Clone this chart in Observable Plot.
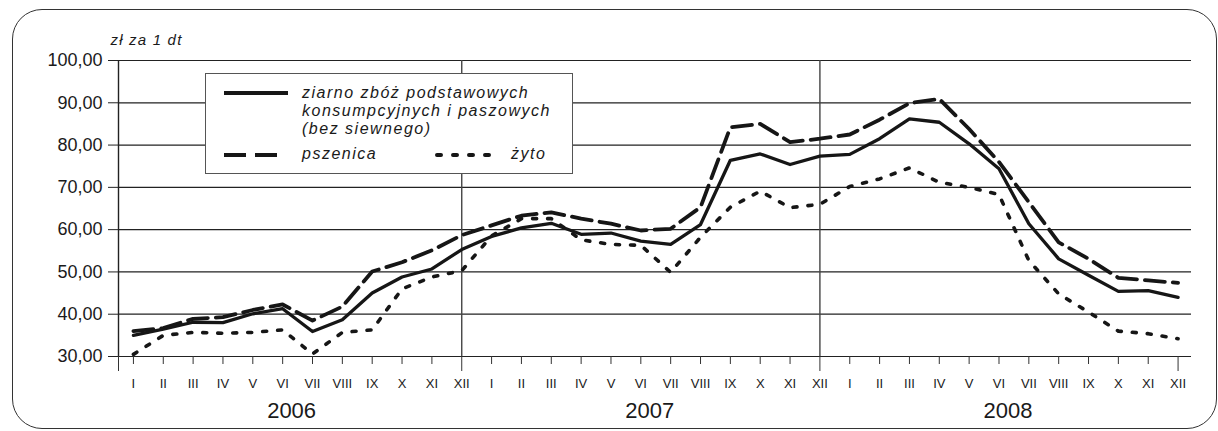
<!DOCTYPE html>
<html>
<head>
<meta charset="utf-8">
<script src="https://cdn.jsdelivr.net/npm/d3@7"></script>
<script src="https://cdn.jsdelivr.net/npm/@observablehq/plot@0.6"></script>
<style>
  html, body { margin: 0; padding: 0; background: #fff; }
  body { width: 1218px; height: 431px; position: relative; overflow: hidden; font-family: "Liberation Sans", Arial, sans-serif; color: #1a1a1a; }
  #chart { position: absolute; left: 0; top: 0; }
  #border { position: absolute; left: 12px; top: 9px; width: 1203px; height: 418px; border: 1.4px solid #333; border-radius: 30px; pointer-events: none; }
  #legend { position: absolute; left: 205px; top: 73px; width: 366px; height: 99px; border: 1.3px solid #555; background: #fff; }
  #legend .t { position: absolute; font-style: italic; font-size: 16px; letter-spacing: 1.5px; line-height: 18px; white-space: nowrap; color: #1a1a1a; }
  #legend svg { position: absolute; left: 0; top: 0; }
</style>
</head>
<body>
<div id="chart"></div>
<div id="border"></div>
<div id="legend"></div>
<script>
// ---- data ----
const months = ["I","II","III","IV","V","VI","VII","VIII","IX","X","XI","XII"];
const years = [2006, 2007, 2008];
const seriesNames = ["ziarno zbóż podstawowych konsumpcyjnych i paszowych (bez siewnego)", "pszenica", "żyto"];
const ziarno = [
  35.0, 36.5, 38.1, 38.0, 40.1, 41.3, 35.9, 38.7, 45.0, 48.8, 50.7, 55.3,
  58.4, 60.4, 61.5, 58.9, 59.2, 57.3, 56.5, 61.2, 76.4, 77.9, 75.4, 77.4,
  77.8, 81.5, 86.2, 85.4, 80.3, 74.4, 61.4, 53.1, 49.2, 45.4, 45.6, 44.0
];
const pszenica = [
  36.0, 36.7, 38.9, 39.3, 41.0, 42.3, 38.5, 41.8, 50.1, 52.3, 55.1, 58.7,
  61.0, 63.3, 64.1, 62.6, 61.4, 59.8, 60.2, 65.3, 84.2, 85.0, 80.7, 81.5,
  82.5, 86.0, 89.9, 90.9, 83.8, 76.0, 66.5, 57.0, 53.1, 48.6, 48.0, 47.4
];
const zyto = [
  30.5, 35.0, 35.7, 35.5, 35.7, 36.3, 30.6, 35.7, 36.3, 46.0, 48.8, 50.3,
  58.5, 62.6, 62.6, 57.6, 56.5, 56.3, 49.9, 58.2, 65.3, 69.1, 65.2, 66.0,
  70.2, 72.0, 74.6, 71.2, 70.0, 68.3, 52.7, 44.8, 40.5, 36.0, 35.4, 34.2
];
const yTicks = [30, 40, 50, 60, 70, 80, 90, 100];
const yDomain = [30, 100];
const unitLabel = "zł za 1 dt";

// ---- derived tables ----
const n = years.length * months.length;
const idx = d3.range(n);
const xDomain = [-0.5, n - 0.55];
const rows = (vals) => vals.map((v, i) => ({i, v}));
const decemberIdx = idx.filter(i => i % 12 === 11);
const otherIdx = idx.filter(i => i % 12 !== 11);
const yearCenters = years.map((y, k) => d3.mean(d3.range(k * 12, k * 12 + 12)) - 0.2);
const monthLabel = i => months[i % 12];
const fmt = d => d.toFixed(2).replace(".", ",");
const ink = "#161616";

const plot = Plot.plot({
  width: 1218,
  height: 431,
  marginLeft: 118,
  marginRight: 27,
  marginTop: 60,
  marginBottom: 75,
  style: {fontFamily: "'Liberation Sans', Arial, sans-serif", color: "#1a1a1a", background: "transparent", overflow: "visible"},
  x: {type: "linear", domain: xDomain, axis: null},
  y: {domain: yDomain, axis: null},
  marks: [
    Plot.gridY(yTicks, {stroke: "#222", strokeOpacity: 1, strokeWidth: 1.2}),
    Plot.ruleX([xDomain[0]], {y1: yDomain[0], y2: yDomain[1], stroke: "#222", strokeWidth: 1.4}),
    Plot.ruleX(decemberIdx.slice(0, -1), {y1: yDomain[0], y2: yDomain[1], stroke: "#444", strokeWidth: 1.4}),
    Plot.axisY({ticks: yTicks, tickSize: 10, tickPadding: 6, tickFormat: fmt, fontSize: 18, label: null, stroke: "#222"}),
    Plot.axisX({ticks: otherIdx, tickSize: 8, tickPadding: 14, tickFormat: monthLabel, fontSize: 13, label: null, stroke: "#333"}),
    Plot.axisX({ticks: [xDomain[0], ...decemberIdx], tickSize: 15, tickPadding: 7, tickFormat: i => Number.isInteger(i) ? monthLabel(i) : "", fontSize: 13, label: null, stroke: "#333"}),
    Plot.axisX({ticks: yearCenters, tickSize: 0, tickPadding: 46, tickFormat: (d, k) => String(years[k]), fontSize: 22, label: null}),
    Plot.text([unitLabel], {frameAnchor: "top-left", dx: -8, dy: -26, textAnchor: "start", fontStyle: "italic", fontSize: 15, fill: "#1a1a1a"}),
    Plot.lineY(rows(zyto), {x: "i", y: "v", stroke: ink, strokeWidth: 3.6, strokeDasharray: "4,11", strokeLinecap: "round", strokeLinejoin: "round"}),
    Plot.lineY(rows(pszenica), {x: "i", y: "v", stroke: ink, strokeWidth: 3.8, strokeDasharray: "20,8", strokeLinejoin: "round"}),
    Plot.lineY(rows(ziarno), {x: "i", y: "v", stroke: ink, strokeWidth: 3.3, strokeLinejoin: "round"})
  ]
});
document.getElementById("chart").appendChild(plot);
plot.querySelectorAll("text").forEach(t => { if (t.textContent === unitLabel) t.setAttribute("letter-spacing", "1.2"); });

// ---- legend (HTML overlay) ----
const lg = document.getElementById("legend");
lg.innerHTML = `
<svg width="366" height="99">
  <line x1="18" x2="82" y1="19" y2="19" stroke="${ink}" stroke-width="4"/>
  <line x1="18" x2="78" y1="81" y2="81" stroke="${ink}" stroke-width="4" stroke-dasharray="22,9"/>
  <line x1="231" x2="283" y1="81" y2="81" stroke="${ink}" stroke-width="4" stroke-dasharray="4,12" stroke-linecap="round"/>
</svg>
<div class="t" style="left:96px; top:10px;">ziarno zbóż podstawowych<br>konsumpcyjnych i paszowych<br>(bez siewnego)</div>
<div class="t" style="left:96px; top:71px;">${seriesNames[1]}</div>
<div class="t" style="left:305px; top:71px;">${seriesNames[2]}</div>
`;
</script>
</body>
</html>
